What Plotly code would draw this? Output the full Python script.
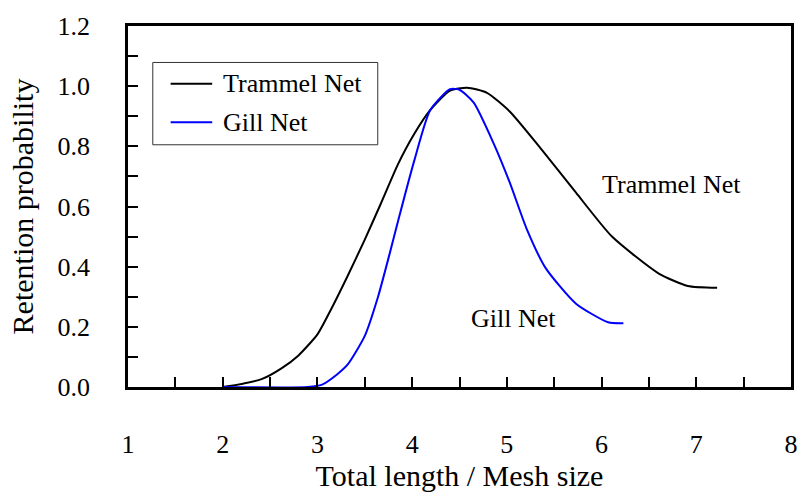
import plotly.graph_objects as go

# Retention curves (relative length = total length / mesh size)
trammel_x = [2.0, 2.2, 2.41, 2.62, 2.80, 3.0, 3.15, 3.32, 3.50, 3.67, 3.85, 4.02,
             4.19, 4.40, 4.58, 4.79, 5.03, 5.34, 5.73, 6.11, 6.60, 6.91, 7.22]
trammel_y = [0.0, 0.01, 0.026, 0.062, 0.105, 0.175, 0.262, 0.37, 0.49, 0.61, 0.74, 0.84,
             0.92, 0.985, 0.995, 0.978, 0.916, 0.80, 0.646, 0.50, 0.378, 0.336, 0.33]

gill_x = [2.0, 2.9, 3.05, 3.2, 3.32, 3.50, 3.64, 3.76, 3.85, 4.02, 4.19, 4.40,
          4.50, 4.65, 4.86, 5.03, 5.21, 5.41, 5.73, 6.07, 6.23]
gill_y = [0.0, 0.0, 0.008, 0.04, 0.075, 0.17, 0.30, 0.44, 0.55, 0.75, 0.92, 0.99,
          0.988, 0.945, 0.81, 0.68, 0.525, 0.395, 0.277, 0.215, 0.212]

series_names = ["Trammel Net", "Gill Net"]
series_colors = ["black", "#0000ff"]
x_title = "Total length / Mesh size"
y_title = "Retention probability"

FONT = "Liberation Serif, Times New Roman, serif"
TICK_SIZE = 26
TITLE_SIZE = 30

fig = go.Figure()
fig.add_trace(go.Scatter(x=trammel_x, y=trammel_y, mode="lines", name=series_names[0],
                         line=dict(color=series_colors[0], width=2, shape="spline", smoothing=0.6)))
fig.add_trace(go.Scatter(x=gill_x, y=gill_y, mode="lines", name=series_names[1],
                         line=dict(color=series_colors[1], width=2, shape="spline", smoothing=0.6)))

# in-plot curve labels
fig.add_annotation(x=6.74, y=0.672, text=series_names[0], showarrow=False,
                   font=dict(family=FONT, size=TICK_SIZE, color="black"))
fig.add_annotation(x=5.07, y=0.228, text=series_names[1], showarrow=False,
                   font=dict(family=FONT, size=TICK_SIZE, color="black"))

# boxed key in the upper-left corner (longer line samples than the built-in legend)
fig.add_shape(type="rect", xref="paper", yref="paper",
              x0=0.0374, x1=0.3767, y0=0.671, y1=0.899,
              line=dict(color="#333333", width=1), fillcolor="white", layer="above")
for name, color, yk in zip(series_names, series_colors, [0.8397, 0.7337]):
    fig.add_shape(type="line", xref="paper", yref="paper",
                  x0=0.0643, x1=0.127, y0=yk, y1=yk,
                  line=dict(color=color, width=2), layer="above")
    fig.add_annotation(xref="paper", yref="paper", x=0.1405, y=yk, text=name,
                       xanchor="left", yanchor="middle", showarrow=False,
                       font=dict(family=FONT, size=TICK_SIZE, color="black"))

axis_common = dict(
    showline=True, linecolor="black", linewidth=2.5, mirror=True,
    ticks="inside", ticklen=10, tickwidth=2, tickcolor="black",
    showgrid=False, zeroline=False,
    tickfont=dict(family=FONT, size=TICK_SIZE, color="black"),
)

fig.update_xaxes(range=[1, 8], dtick=1, tick0=1,
                 minor=dict(dtick=0.5, ticks="inside", ticklen=10, tickwidth=2, tickcolor="black"),
                 ticklabelstandoff=32,
                 title=dict(text=x_title, font=dict(family=FONT, size=TITLE_SIZE, color="black"), standoff=4),
                 **axis_common)
fig.update_yaxes(range=[0, 1.2], dtick=0.2, tick0=0, tickformat=".1f",
                 minor=dict(dtick=0.1, ticks="inside", ticklen=10, tickwidth=2, tickcolor="black"),
                 ticklabelstandoff=30,
                 title=dict(text=y_title, font=dict(family=FONT, size=TITLE_SIZE, color="black"), standoff=16),
                 **axis_common)

fig.update_layout(
    width=810, height=496,
    margin=dict(l=128, r=13, t=20, b=108),
    paper_bgcolor="white", plot_bgcolor="white",
    font=dict(family=FONT, size=TICK_SIZE, color="black"),
    showlegend=False,
)

fig.write_html("out.html")
